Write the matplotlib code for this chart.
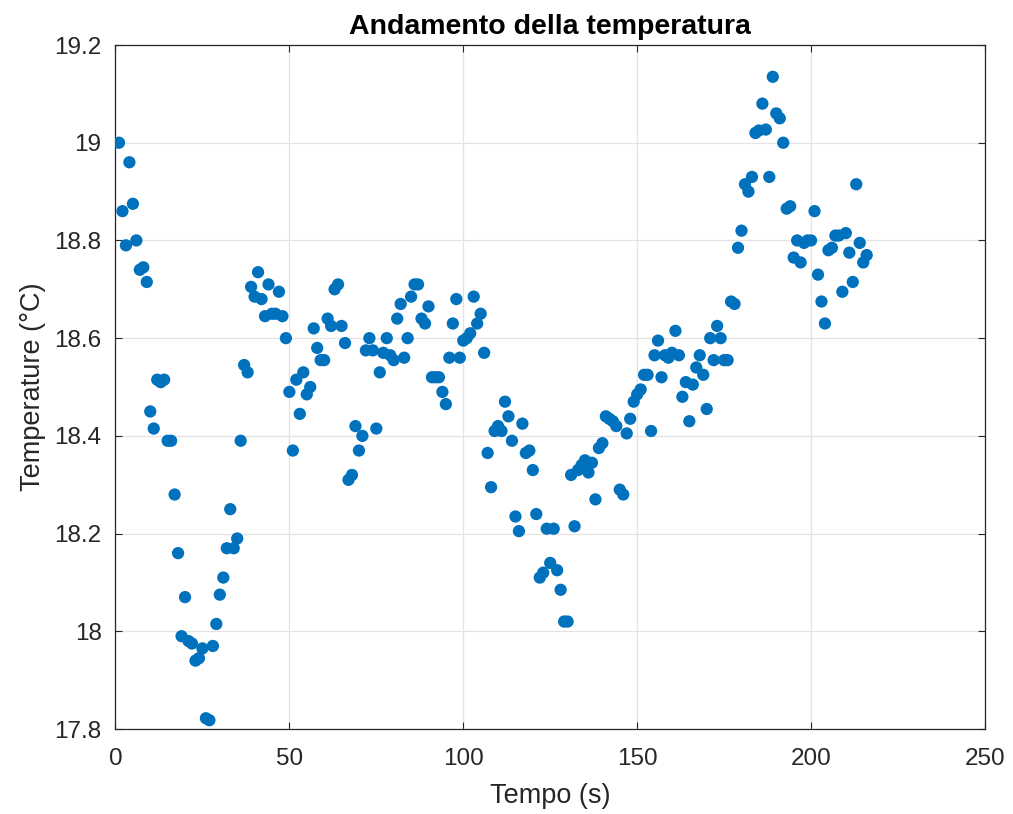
import matplotlib
matplotlib.use('Agg')
import matplotlib.pyplot as plt
from matplotlib.ticker import FuncFormatter

plt.rcParams['font.family'] = ['Liberation Sans', 'DejaVu Sans']

# tempo (s)
tempo = [1, 2, 3, 4, 5, 6, 7, 8, 9, 10, 11, 12, 13, 14, 15, 16, 17, 18, 19, 20,
         21, 22, 23, 24, 25, 26, 27, 28, 29, 30, 31, 32, 33, 34, 35, 36, 37, 38, 39, 40,
         41, 42, 43, 44, 45, 46, 47, 48, 49, 50, 51, 52, 53, 54, 55, 56, 57, 58, 59, 60,
         61, 62, 63, 64, 65, 66, 67, 68, 69, 70, 71, 72, 73, 74, 75, 76, 77, 78, 79, 80,
         81, 82, 83, 84, 85, 86, 87, 88, 89, 90, 91, 92, 93, 94, 95, 96, 97, 98, 99, 100,
         101, 102, 103, 104, 105, 106, 107, 108, 109, 110, 111, 112, 113, 114, 115, 116, 117, 118, 119, 120,
         121, 122, 123, 124, 125, 126, 127, 128, 129, 130, 131, 132, 133, 134, 135, 136, 137, 138, 139, 140,
         141, 142, 143, 144, 145, 146, 147, 148, 149, 150, 151, 152, 153, 154, 155, 156, 157, 158, 159, 160,
         161, 162, 163, 164, 165, 166, 167, 168, 169, 170, 171, 172, 173, 174, 175, 176, 177, 178, 179, 180,
         181, 182, 183, 184, 185, 186, 187, 188, 189, 190, 191, 192, 193, 194, 195, 196, 197, 198, 199, 200,
         201, 202, 203, 204, 205, 206, 207, 208, 209, 210, 211, 212, 213, 214, 215, 216]

# temperatura (°C)
temperatura = [
    19.00, 18.86, 18.79, 18.96, 18.875, 18.80, 18.74, 18.745, 18.715, 18.45,
    18.415, 18.515, 18.51, 18.515, 18.39, 18.39, 18.28, 18.16, 17.99, 18.07,
    17.98, 17.975, 17.94, 17.945, 17.965, 17.822, 17.818, 17.97, 18.015, 18.075,
    18.11, 18.17, 18.25, 18.17, 18.19, 18.39, 18.545, 18.53, 18.705, 18.685,
    18.735, 18.68, 18.645, 18.71, 18.65, 18.65, 18.695, 18.645, 18.60, 18.49,
    18.37, 18.515, 18.445, 18.53, 18.485, 18.50, 18.62, 18.58, 18.555, 18.555,
    18.64, 18.625, 18.70, 18.71, 18.625, 18.59, 18.31, 18.32, 18.42, 18.37,
    18.40, 18.575, 18.60, 18.575, 18.415, 18.53, 18.57, 18.60, 18.565, 18.555,
    18.64, 18.67, 18.56, 18.60, 18.685, 18.71, 18.71, 18.64, 18.63, 18.665,
    18.52, 18.52, 18.52, 18.49, 18.465, 18.56, 18.63, 18.68, 18.56, 18.595,
    18.60, 18.61, 18.685, 18.63, 18.65, 18.57, 18.365, 18.295, 18.41, 18.42,
    18.41, 18.47, 18.44, 18.39, 18.235, 18.205, 18.425, 18.365, 18.37, 18.33,
    18.24, 18.11, 18.12, 18.21, 18.14, 18.21, 18.125, 18.085, 18.02, 18.02,
    18.32, 18.215, 18.33, 18.34, 18.35, 18.325, 18.345, 18.27, 18.375, 18.385,
    18.44, 18.435, 18.43, 18.42, 18.29, 18.28, 18.405, 18.435, 18.47, 18.485,
    18.495, 18.525, 18.525, 18.41, 18.565, 18.595, 18.52, 18.565, 18.56, 18.57,
    18.615, 18.565, 18.48, 18.51, 18.43, 18.505, 18.54, 18.565, 18.525, 18.455,
    18.60, 18.555, 18.625, 18.60, 18.555, 18.555, 18.675, 18.67, 18.785, 18.82,
    18.915, 18.90, 18.93, 19.02, 19.025, 19.08, 19.027, 18.93, 19.135, 19.06,
    19.05, 19.00, 18.865, 18.87, 18.765, 18.80, 18.755, 18.795, 18.80, 18.80,
    18.86, 18.73, 18.675, 18.63, 18.78, 18.785, 18.81, 18.81, 18.695, 18.815,
    18.775, 18.715, 18.915, 18.795, 18.755, 18.77]

fig = plt.figure(figsize=(10.13, 8.14), dpi=100)
ax = fig.add_axes([0.114, 0.1044, 0.8583, 0.8403])

ax.scatter(tempo, temperatura, s=78, color='#0072BD', edgecolors='none', zorder=3)

ax.set_xlim(0, 250)
ax.set_ylim(17.8, 19.2)
ax.set_xticks([0, 50, 100, 150, 200, 250])
ax.set_yticks([17.8, 18.0, 18.2, 18.4, 18.6, 18.8, 19.0, 19.2])
ax.yaxis.set_major_formatter(FuncFormatter(lambda v, p: '%g' % round(v, 2)))

ax.grid(True, color='#e3e3e3', linewidth=0.9, zorder=0)
ax.set_axisbelow(True)
for s in ax.spines.values():
    s.set_color('#262626')
    s.set_linewidth(0.9)
ax.tick_params(direction='in', length=5, labelsize=17.5, colors='#262626',
               top=True, right=True)
ax.tick_params(axis='x', pad=14)
ax.tick_params(axis='y', pad=10)

ax.set_xlabel('Tempo (s)', fontsize=19.5, color='#262626', labelpad=9)
ax.set_ylabel('Temperature (°C)', fontsize=19.5, color='#262626', labelpad=6)
ax.set_title('Andamento della temperatura', fontsize=20.5, fontweight='bold', pad=8)

fig.savefig('out.png', dpi=100, facecolor='white')
